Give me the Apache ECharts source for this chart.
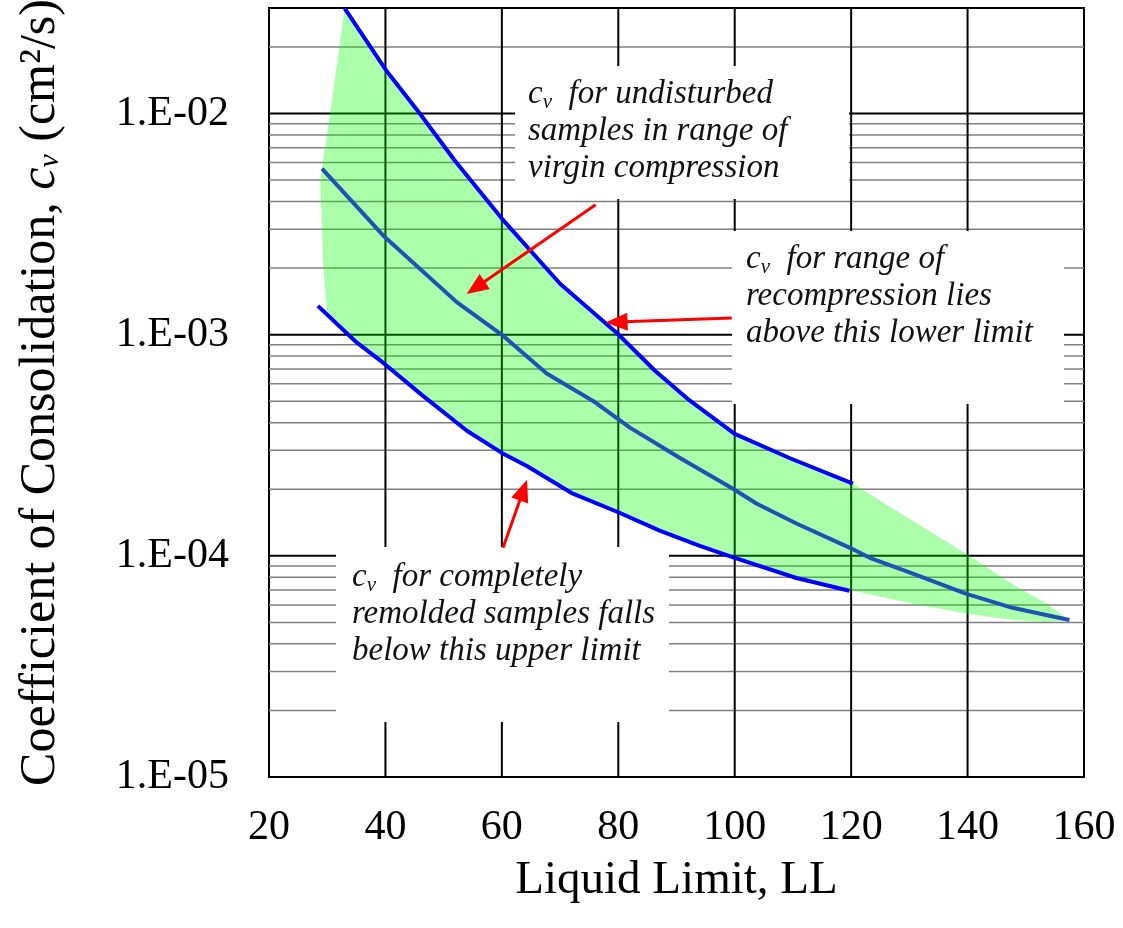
<!DOCTYPE html>
<html>
<head>
<meta charset="utf-8">
<title>Coefficient of Consolidation vs Liquid Limit</title>
<script src="https://cdn.jsdelivr.net/npm/echarts@6/dist/echarts.min.js"></script>
<style>
  html, body { margin: 0; padding: 0; background: #ffffff; }
  #chart { width: 1123px; height: 928px; }
</style>
</head>
<body>
<div id="chart"></div>
<script>
// Liquid limit (LL) and coefficient of consolidation cv (cm^2/s) for each curve
const llUpper = [33.0, 40.1, 45.9, 51.9, 60.0, 70.0, 79.9, 86.3, 92.3, 100.0, 109.4, 120.3];
const cvUpper = [0.0299, 0.0157, 0.0100, 0.00613, 0.00335, 0.00170, 0.00101, 6.87e-4, 5.03e-4, 3.56e-4, 2.77e-4, 2.12e-4];

const llMiddle = [29.1, 39.6, 52.3, 60.2, 67.7, 75.6, 82.0, 90.6, 99.7, 103.8, 110.6, 119.7, 123.2, 130.6, 139.8, 147.7, 157.5];
const cvMiddle = [5.63e-3, 2.81e-3, 1.40e-3, 9.9e-4, 6.67e-4, 5.03e-4, 3.80e-4, 2.77e-4, 2.01e-4, 1.72e-4, 1.40e-4, 1.09e-4, 9.8e-5, 8.3e-5, 6.73e-5, 5.82e-5, 5.13e-5];

const llLower = [28.4, 35.1, 39.6, 46.4, 54.0, 60.0, 64.3, 72.2, 80.1, 87.1, 94.0, 100.0, 110.6, 119.7];
const cvLower = [1.35e-3, 9.2e-4, 7.47e-4, 5.3e-4, 3.68e-4, 2.92e-4, 2.55e-4, 1.91e-4, 1.57e-4, 1.30e-4, 1.11e-4, 9.8e-5, 7.94e-5, 6.95e-5];

// Outline of the shaded band: top edge (left to right), bottom edge (right to left), left edge (bottom to top)
const bandTopLL = [33.0, 40.1, 45.9, 51.9, 60.0, 70.0, 79.9, 86.3, 92.3, 100.0, 109.4, 120.3, 139.8, 147.7, 153.6, 157.5];
const bandTopCv = [0.0299, 0.0157, 0.0100, 0.00613, 0.00335, 0.00170, 0.00101, 6.87e-4, 5.03e-4, 3.56e-4, 2.77e-4, 2.12e-4, 1.02e-4, 7.46e-5, 6.07e-5, 5.13e-5];
const bandBottomLL = [153.6, 147.7, 140.0, 130.6, 120.3, 110.6, 100.0, 94.0, 87.1, 80.1, 72.2, 64.3, 60.0, 54.0, 46.4, 39.6, 35.1, 30.0];
const bandBottomCv = [5.02e-5, 5.13e-5, 5.47e-5, 6.07e-5, 6.95e-5, 7.94e-5, 9.8e-5, 1.11e-4, 1.30e-4, 1.57e-4, 1.91e-4, 2.55e-4, 2.92e-4, 3.68e-4, 5.3e-4, 7.47e-4, 9.2e-4, 1.25e-3];
const bandLeftLL = [29.3, 28.8, 30.5];
const bandLeftCv = [2.09e-3, 4.98e-3, 1.0e-2];

// Annotation arrows: tail and head positions in data units
const arrowFromLL = [76.1, 99.5, 60.2];
const arrowFromCv = [3.87e-3, 1.19e-3, 1.087e-4];
const arrowToLL = [55.5, 79.7, 63.7];
const arrowToCv = [1.63e-3, 1.14e-3, 1.98e-4];

// Axis ticks
const xTicks = [20, 40, 60, 80, 100, 120, 140, 160];
const yDecades = [1e-5, 1e-4, 1e-3, 1e-2];
const yTickLabels = ['1.E-05', '1.E-04', '1.E-03', '1.E-02'];
const minorMultipliers = [2, 3, 4, 5, 6, 7, 8, 9];

const xMin = xTicks[0], xMax = xTicks[xTicks.length - 1];
const yMin = 1e-5, yMax = 0.03;

const pairs = (xs, ys) => xs.map((x, i) => [x, ys[i]]);

// Horizontal log grid: [x, value, isMajor]
const hGrid = [];
yDecades.forEach(d => {
  hGrid.push([xMin, d, 1]);
  minorMultipliers.forEach(m => {
    const v = m * d;
    if (v < yMax * 0.999) hGrid.push([xMin, v, 0]);
  });
});

const bandOutline = pairs(bandTopLL, bandTopCv)
  .concat(pairs(bandBottomLL, bandBottomCv))
  .concat(pairs(bandLeftLL, bandLeftCv));

const serif = '"Liberation Serif", "Times New Roman", serif';

function labelForDecade(v) {
  const e = Math.log10(v);
  if (Math.abs(e - Math.round(e)) > 1e-6) return '';
  const idx = yDecades.findIndex(d => Math.abs(Math.log10(d) - e) < 1e-6);
  return idx >= 0 ? yTickLabels[idx] : '';
}

// White note panels (pixel rectangles inside the plot)
const notePanels = [
  [515, 66, 334, 133],
  [732, 231, 332, 173],
  [336, 547, 333, 175]
];

const chart = echarts.init(document.getElementById('chart'), null, { renderer: 'canvas' });

const noteRich = {
  n: { fontFamily: serif, fontStyle: 'italic', fontSize: 33, lineHeight: 37, color: '#111' },
  s: { fontFamily: serif, fontStyle: 'italic', fontSize: 21, lineHeight: 21, padding: [16, 0, 0, 0], color: '#111' }
};

function note(x, y, lines) {
  return {
    type: 'text', left: x, top: y, z: 20, silent: true,
    style: { text: lines.join('\n'), rich: noteRich, fill: '#111' }
  };
}

const option = {
  animation: false,
  backgroundColor: '#ffffff',
  grid: {
    left: 269, right: 39, top: 8, bottom: 151,
    show: true, borderColor: '#000', borderWidth: 2,
    containLabel: false, outerBoundsMode: 'none'
  },
  xAxis: {
    type: 'value', min: xMin, max: xMax, interval: 20,
    name: 'Liquid Limit, LL', nameLocation: 'middle', nameGap: 80,
    nameTextStyle: { fontFamily: serif, fontSize: 47, color: '#000' },
    axisLine: { show: true, lineStyle: { color: '#000', width: 2 } },
    axisTick: { show: false },
    axisLabel: { fontFamily: serif, fontSize: 42, color: '#000', margin: 30 },
    splitLine: { show: false }
  },
  yAxis: {
    type: 'log', logBase: 10, min: yMin, max: yMax,
    name: 'Coefficient of Consolidation, {i|c}{s|v} (cm²/s)',
    nameLocation: 'middle', nameGap: 203,
    nameTextStyle: {
      fontFamily: serif, fontSize: 50, color: '#000',
      rich: {
        i: { fontFamily: serif, fontStyle: 'italic', fontSize: 50, color: '#000' },
        s: { fontFamily: serif, fontStyle: 'italic', fontSize: 30, color: '#000', padding: [18, 0, 0, 0] }
      }
    },
    axisLine: { show: true, lineStyle: { color: '#000', width: 2 } },
    axisTick: { show: false },
    axisLabel: { fontFamily: serif, fontSize: 42, color: '#000', margin: 40, formatter: labelForDecade },
    splitLine: { show: false },
    minorTick: { show: false },
    minorSplitLine: { show: false }
  },
  graphic: [
    note(528, 76, ['{n|c}{s|v}{n|  for undisturbed}', '{n|samples in range of}', '{n|virgin compression}']),
    note(746, 241, ['{n|c}{s|v}{n|  for range of}', '{n|recompression lies}', '{n|above this lower limit}']),
    note(352, 559, ['{n|c}{s|v}{n|  for completely}', '{n|remolded samples falls}', '{n|below this upper limit}'])
  ],
  series: [
    {
      // horizontal log grid lines (decades black, 2..9 grey)
      name: 'hgrid', type: 'custom', z: 1, silent: true, clip: false,
      data: hGrid,
      renderItem: function (params, api) {
        const v = api.value(1);
        const major = api.value(2) === 1;
        const a = api.coord([xMin, v]);
        const b = api.coord([xMax, v]);
        return {
          type: 'line',
          shape: { x1: a[0], y1: a[1], x2: b[0], y2: b[1] },
          style: { stroke: major ? '#000000' : '#7f7f7f', lineWidth: major ? 2 : 1.5 }
        };
      }
    },
    {
      // vertical grid lines at each x tick
      name: 'vgrid', type: 'custom', z: 1, silent: true, clip: false,
      data: xTicks.slice(1, -1).map(x => [x, yMin]),
      renderItem: function (params, api) {
        const x = api.value(0);
        const a = api.coord([x, yMin]);
        const b = api.coord([x, yMax]);
        return {
          type: 'line',
          shape: { x1: a[0], y1: a[1], x2: b[0], y2: b[1] },
          style: { stroke: '#000000', lineWidth: 2 }
        };
      }
    },
    {
      // white panels behind the notes
      name: 'panels', type: 'custom', z: 1.5, silent: true, clip: false,
      data: [[xMin, yMin]],
      renderItem: function () {
        return {
          type: 'group',
          children: notePanels.map(p => ({
            type: 'rect',
            shape: { x: p[0], y: p[1], width: p[2], height: p[3] },
            style: { fill: '#ffffff' }
          }))
        };
      }
    },
    {
      name: 'band', type: 'custom', z: 2, silent: true, clip: true,
      data: [bandOutline[0]],
      renderItem: function (params, api) {
        const pts = bandOutline.map(p => api.coord(p));
        return {
          type: 'polygon',
          shape: { points: pts },
          style: { fill: 'rgba(0,255,0,0.33)', stroke: null }
        };
      }
    },
    {
      name: 'upper', type: 'line', z: 3, silent: true, showSymbol: false,
      data: pairs(llUpper, cvUpper),
      lineStyle: { color: '#0000ff', width: 4 }
    },
    {
      name: 'middle', type: 'line', z: 3, silent: true, showSymbol: false,
      data: pairs(llMiddle, cvMiddle),
      lineStyle: { color: '#1f52b4', width: 4 }
    },
    {
      name: 'lower', type: 'line', z: 3, silent: true, showSymbol: false,
      data: pairs(llLower, cvLower),
      lineStyle: { color: '#0000ff', width: 4 }
    },
    {
      name: 'arrows', type: 'line', data: [], z: 4, silent: true,
      markLine: {
        silent: true, symbol: ['none', 'triangle'], symbolSize: [18, 22],
        label: { show: false }, emphasis: { disabled: true },
        lineStyle: { color: '#ff0000', width: 3, type: 'solid' },
        data: arrowFromLL.map((x, i) => [
          { coord: [x, arrowFromCv[i]] },
          { coord: [arrowToLL[i], arrowToCv[i]] }
        ])
      }
    }
  ]
};

chart.setOption(option);
</script>
</body>
</html>
